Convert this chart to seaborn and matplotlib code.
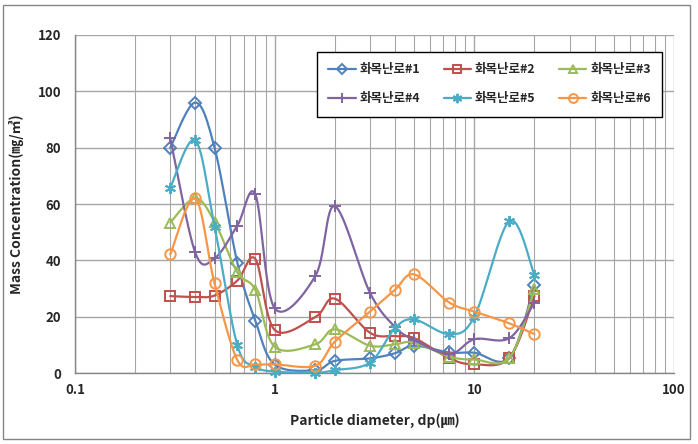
import numpy as np
import pandas as pd
import matplotlib
matplotlib.use("Agg")
import matplotlib.pyplot as plt
from matplotlib.lines import Line2D
from matplotlib.patches import Rectangle
from matplotlib.ticker import FixedLocator, FixedFormatter, NullFormatter, LogLocator
import seaborn as sns

# ---- data ----
diameters = [0.3, 0.4, 0.5, 0.65, 0.8, 1.0, 1.6, 2.0, 3.0, 4.0, 5.0, 7.5, 10, 15, 20]
series_names = ["화목난로#1", "화목난로#2", "화목난로#3", "화목난로#4", "화목난로#5", "화목난로#6"]
s1 = [80, 96, 80, 39.2, 18.6, 3, 1, 4.3, 5.2, 7, 9.7, 7.3, 7.2, 5.4, 31.2]
s2 = [27.3, 27, 27.5, 32.8, 40.5, 15.3, 19.9, 26.4, 14.3, 13.1, 12.4, 5.2, 3.1, 5.4, 27.3]
s3 = [53.4, 62, 53.7, 35.7, 29.5, 9.3, 10.2, 15.5, 9.7, 10.2, 10.8, 5.8, 4.8, 5.4, 29.8]
s4 = [83.3, 42.8, 40.7, 52.3, 63.4, 23, 34.5, 59.2, 28.5, 16.4, 11.7, 6.7, 12, 12.4, 25]
s5 = [65.8, 82.6, 52, 9.9, 2.3, 0.5, 0.1, 1, 3.7, 15.9, 19, 13.8, 20, 54, 34.8]
s6 = [42.1, 62, 31.8, 4.6, 3.1, 3.1, 2.6, 11.1, 21.8, 29.5, 35, 25, 21.8, 17.6, 13.8]
all_series = [s1, s2, s3, s4, s5, s6]
colors = ["#4F81BD", "#C0504D", "#9BBB59", "#8064A2", "#4BACC6", "#F79646"]
markers = ["D", "s", "^", "+", (6, 2, 0), "o"]
msizes = [6.5, 7, 7, 9, 8, 7.5]
x_ticks = [0.1, 1, 10, 100]
x_ticklabels = ["0.1", "1", "10", "100"]
y_ticks = [0, 20, 40, 60, 80, 100, 120]


def smooth(xs, ys, n=30):
    """Catmull-Rom (Excel-like smoothed line) in log-x / linear-y space."""
    u = np.log10(np.asarray(xs, float))
    v = np.asarray(ys, float)
    P = np.column_stack([u, v])
    m = len(P)
    out = []
    for i in range(m - 1):
        p0 = P[i - 1] if i > 0 else P[i]
        p1 = P[i]
        p2 = P[i + 1]
        p3 = P[i + 2] if i + 2 < m else P[i + 1]
        c1 = p1 + (p2 - p0) / 6.0
        c2 = p2 - (p3 - p1) / 6.0
        t = np.linspace(0, 1, n, endpoint=(i == m - 2))[:, None]
        b = ((1 - t) ** 3) * p1 + 3 * ((1 - t) ** 2) * t * c1 + 3 * (1 - t) * t ** 2 * c2 + t ** 3 * p2
        out.append(b)
    out = np.vstack(out)
    return 10 ** out[:, 0], out[:, 1]


sns.set_style("white")
plt.rcParams["font.family"] = ["Noto Sans CJK KR", "DejaVu Sans"]

fig = plt.figure(figsize=(6.98, 4.44), dpi=100)
ax = fig.add_axes([75 / 698, 71 / 444, 599 / 698, 338 / 444])

# smoothed lines via seaborn
rows = []
for name, ys in zip(series_names, all_series):
    sx, sy = smooth(diameters, ys)
    for a, b in zip(sx, sy):
        rows.append((name, a, b))
curve_df = pd.DataFrame(rows, columns=["series", "dp", "conc"])

for k, (name, ys) in enumerate(zip(series_names, all_series)):
    sub = curve_df[curve_df["series"] == name]
    sns.lineplot(data=sub, x="dp", y="conc", color=colors[k], linewidth=1.6,
                 sort=False, estimator=None, ax=ax, zorder=3 + k, legend=False)
    ax.plot(diameters, ys, linestyle="none", marker=markers[k], markersize=msizes[k],
            markerfacecolor="none", markeredgecolor=colors[k], markeredgewidth=1.4,
            zorder=3 + k, clip_on=False)

ax.set_xscale("log")
ax.set_xlim(0.1, 100)
ax.set_ylim(0, 120)
ax.xaxis.set_major_locator(FixedLocator(x_ticks))
ax.xaxis.set_major_formatter(FixedFormatter(x_ticklabels))
ax.xaxis.set_minor_locator(LogLocator(base=10, subs=np.arange(2, 10)))
ax.xaxis.set_minor_formatter(NullFormatter())
ax.set_yticks(y_ticks)

grid_c = "#A6A6A6"
ax.grid(True, which="major", axis="both", color=grid_c, linewidth=1.0)
ax.grid(True, which="minor", axis="x", color=grid_c, linewidth=0.8)
ax.set_axisbelow(True)
for side in ["top", "right"]:
    ax.spines[side].set_visible(False)
for side in ["left", "bottom"]:
    ax.spines[side].set_color("#868686")
    ax.spines[side].set_linewidth(1.0)

ax.tick_params(axis="y", which="major", direction="out", length=4, color="#868686",
               labelsize=9.5, pad=6)
ax.tick_params(axis="x", which="major", direction="out", length=0, labelsize=9.5, pad=7)
ax.tick_params(axis="x", which="minor", length=0)
for lab in ax.get_xticklabels() + ax.get_yticklabels():
    lab.set_fontweight("bold")

ax.set_xlabel("Particle diameter, dp(㎛)", fontsize=10, fontweight="bold", labelpad=12)
ax.set_ylabel("Mass Concentration(㎎/㎥)", fontsize=10, fontweight="bold", labelpad=10)

handles = [Line2D([0], [0], color=colors[k], linewidth=1.6, marker=markers[k],
                  markersize=msizes[k] * 0.85, markerfacecolor="none",
                  markeredgecolor=colors[k], markeredgewidth=1.4)
           for k in range(len(series_names))]
# matplotlib fills legend column-wise; reorder so rows read #1 #2 #3 / #4 #5 #6
order = [0, 3, 1, 4, 2, 5]
leg = ax.legend([handles[i] for i in order], [series_names[i] for i in order],
                loc="upper left",
                bbox_to_anchor=(0.404, 0.76, 0.576, 0.19), mode="expand", ncol=3,
                frameon=True, fancybox=False, edgecolor="black", framealpha=1,
                prop={"size": 9, "weight": "bold"}, handlelength=2.2,
                handletextpad=0.3, columnspacing=1.0, borderpad=0.9, labelspacing=1.3,
                borderaxespad=0)
leg.get_frame().set_linewidth(1.0)
leg.set_zorder(20)

fig.patches.append(Rectangle((3 / 698, 5 / 444), 687 / 698, 434 / 444,
                             transform=fig.transFigure, fill=False,
                             edgecolor="#868686", linewidth=1.0))

fig.savefig("out.png", dpi=100)
